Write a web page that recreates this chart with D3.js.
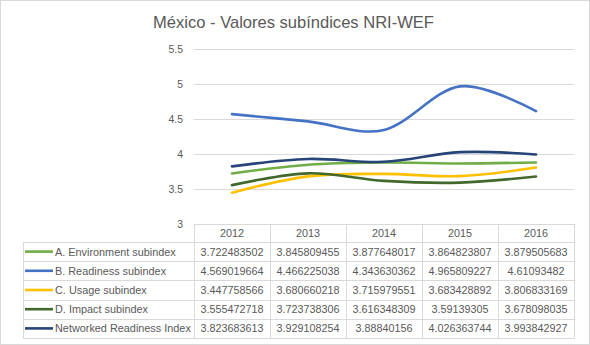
<!DOCTYPE html>
<html><head><meta charset="utf-8">
<script src="https://cdn.jsdelivr.net/npm/d3@7"></script>
<style>body{margin:0;background:#fff;}svg{display:block;font-family:"Liberation Sans",Arial,sans-serif;}</style>
</head><body>
<script>
const title = "México - Valores subíndices NRI-WEF";
const years = ["2012","2013","2014","2015","2016"];
const seriesNames = ["A. Environment subindex","B. Readiness subindex","C. Usage subindex","D. Impact subindex","Networked Readiness Index"];
const environment = [3.722483502,3.845809455,3.877648017,3.864823807,3.879505683];
const readiness = [4.569019664,4.466225038,4.343630362,4.965809227,4.61093482];
const usage = [3.447758566,3.680660218,3.715979551,3.683428892,3.806833169];
const impact = [3.555472718,3.723738306,3.616348309,3.59139305,3.678098035];
const nri = [3.823683613,3.929108254,3.88840156,4.026363744,3.993842927];
const tableText = [
 ["3.722483502","3.845809455","3.877648017","3.864823807","3.879505683"],
 ["4.569019664","4.466225038","4.343630362","4.965809227","4.61093482"],
 ["3.447758566","3.680660218","3.715979551","3.683428892","3.806833169"],
 ["3.555472718","3.723738306","3.616348309","3.59139305","3.678098035"],
 ["3.823683613","3.929108254","3.88840156","4.026363744","3.993842927"]];
const yTicks = [3,3.5,4,4.5,5,5.5];
const colors = ["#70ad47","#4472c4","#ffc000","#43682b","#264478"];
const series = [environment, readiness, usage, impact, nri];

(function(){
const W=590,H=345;
const svg=d3.select("body").append("svg").attr("width",W).attr("height",H);
svg.append("rect").attr("x",0.5).attr("y",0.5).attr("width",W-1).attr("height",H-1).attr("fill","#fff").attr("stroke","#d9d9d9");

const pL=194,pR=574,pT=49,pB=224;
const x=d3.scaleBand().domain(years).range([pL,pR]);
const y=d3.scaleLinear().domain([3,5.5]).range([pB,pT]);
const grid="#d9d9d9", txt="#595959";

function fitSize(str, target, base){
  const tmp=svg.append("text").style("font-size",base+"px").text(str);
  const w=tmp.node().getComputedTextLength(); tmp.remove();
  return base*target/w;
}
const numSize=fitSize("3.722483502",63,12);
const legSize=fitSize("Networked Readiness Index",136,12);
const tickSize=fitSize("5.5",14.5,12);

// title
const t=svg.append("text").attr("x",293.5).attr("y",27.5).attr("text-anchor","middle")
 .attr("fill",txt).style("font-size","18px").text(title);
const tw=t.node().getComputedTextLength();
t.style("font-size",(18*281/tw)+"px");

// gridlines
svg.append("g").selectAll("line").data(yTicks.filter(v=>v>3)).join("line")
 .attr("x1",pL).attr("x2",pR).attr("y1",d=>Math.round(y(d))+0.5).attr("y2",d=>Math.round(y(d))+0.5)
 .attr("stroke",grid);
// y labels
const yAxis=d3.axisLeft(y).tickValues(yTicks).tickSize(0).tickPadding(0).tickFormat(d=>String(d));
const ga=svg.append("g").attr("transform",`translate(183,0)`).call(yAxis);
ga.select(".domain").remove();
ga.selectAll("text").attr("fill",txt).style("font-size",tickSize+"px").style("font-family","Liberation Sans, Arial, sans-serif");

// lines
const line=d3.line().x((d,i)=>x(years[i])+x.bandwidth()/2).y(d=>y(d)).curve(d3.curveCatmullRom.alpha(0));
svg.append("g").selectAll("path").data(series).join("path")
 .attr("d",line).attr("fill","none").attr("stroke",(d,i)=>colors[i]).attr("stroke-width",2.6).attr("stroke-linecap","round");

// table
const rowTop=242,rowH=19.2,legL=23;
const tb=svg.append("g");
const nR=seriesNames.length;
const tBottom=rowTop+rowH*nR;
tb.append("line").attr("x1",pL).attr("x2",pR).attr("y1",pB+0.5).attr("y2",pB+0.5).attr("stroke",grid);
for(let r=0;r<=nR;r++){
  const yy=Math.round(rowTop+r*rowH)+0.5;
  tb.append("line").attr("x1",legL).attr("x2",pR).attr("y1",yy).attr("y2",yy).attr("stroke",grid);
}
const xs=[pL].concat(years.map(yr=>x(yr)+x.bandwidth()));
xs.forEach(xx=>tb.append("line").attr("x1",Math.round(xx)+0.5).attr("x2",Math.round(xx)+0.5).attr("y1",pB).attr("y2",Math.round(tBottom)+0.5).attr("stroke",grid));
tb.append("line").attr("x1",legL+0.5).attr("x2",legL+0.5).attr("y1",rowTop).attr("y2",Math.round(tBottom)+0.5).attr("stroke",grid);
tb.selectAll("text.hd").data(years).join("text").attr("class","hd")
 .attr("x",d=>x(d)+x.bandwidth()/2).attr("y",237).attr("text-anchor","middle")
 .attr("fill",txt).style("font-size",numSize+"px").text(d=>d);
seriesNames.forEach((name,r)=>{
  const cy=rowTop+r*rowH+rowH/2;
  tb.append("line").attr("x1",25).attr("x2",53).attr("y1",cy).attr("y2",cy).attr("stroke",colors[r]).attr("stroke-width",2.6);
  tb.append("text").attr("x",55).attr("y",cy+4).attr("fill",txt).style("font-size",legSize+"px").text(name);
  tableText[r].forEach((v,c)=>{
    tb.append("text").attr("x",x(years[c])+x.bandwidth()/2).attr("y",cy+4).attr("text-anchor","middle")
      .attr("fill",txt).style("font-size",numSize+"px").text(v);
  });
});
})();
</script>
</body></html>
